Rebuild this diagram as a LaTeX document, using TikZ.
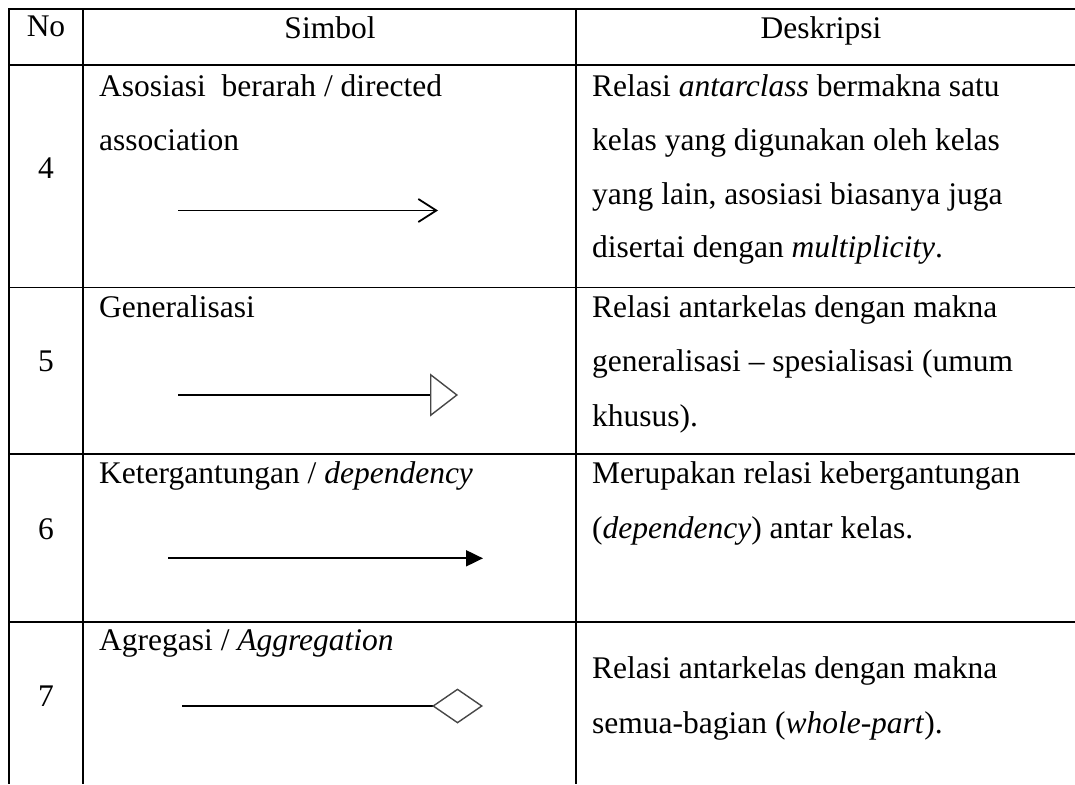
\documentclass[tikz,border=0pt]{standalone}
\usepackage{fontspec}
\setmainfont{Liberation Serif}
\usetikzlibrary{arrows.meta}
\begin{document}
\begin{tikzpicture}[x=1pt,y=-1pt,
  grid/.style={line width=1.7pt,black},
  txt/.style={inner sep=0pt,anchor=base west,font=\fontsize{31.5}{40}\selectfont},
  ctxt/.style={inner sep=0pt,anchor=base,font=\fontsize{31.5}{40}\selectfont},
  conn/.style={line width=1.6pt,black}]
\useasboundingbox (0,0) rectangle (1075,784);
% table rules
\draw[grid] (8.7,9) -- (1075,9);
\draw[grid] (8.7,65) -- (1075,65);
\draw[grid] (8.7,287.5) -- (1075,287.5);
\draw[grid] (8.7,454) -- (1075,454);
\draw[grid] (8.7,621.7) -- (1075,621.7);
\draw[grid] (8.7,8.15) -- (8.7,784);
\draw[grid] (83.3,9) -- (83.3,784);
\draw[grid] (576,9) -- (576,784);
% header
\node[ctxt] (hno) at (46,37) {No};
\node[ctxt] (hsim) at (330,38) {Simbol};
\node[ctxt] (hdes) at (821,38) {Deskripsi};
% numbers
\node[ctxt] (n4) at (46,178) {4};
\node[ctxt] (n5) at (46,371.7) {5};
\node[ctxt] (n6) at (46,539) {6};
\node[ctxt] (n7) at (46,706.7) {7};
% symbol texts
\node[txt] (s4a) at (99,96) {Asosiasi\ \ berarah / directed};
\node[txt] (s4b) at (99,150.7) {association};
\node[txt] (s5) at (99,317.7) {Generalisasi};
\node[txt] (s6) at (99,483.3) {Ketergantungan / \textit{dependency}};
\node[txt] (s7) at (99,650) {Agregasi / \textit{Aggregation}};
% description texts
\node[txt] (d4a) at (592,96.7) {Relasi \textit{antarclass} bermakna satu};
\node[txt] (d4b) at (592,150.7) {kelas yang digunakan oleh kelas};
\node[txt] (d4c) at (592,204) {yang lain, asosiasi biasanya juga};
\node[txt] (d4d) at (592,257.5) {disertai dengan \textit{multiplicity}.};
\node[txt] (d5a) at (592,317.7) {Relasi antarkelas dengan makna};
\node[txt] (d5b) at (592,371.7) {generalisasi -- spesialisasi (umum};
\node[txt] (d5c) at (592,426.7) {khusus).};
\node[txt] (d6a) at (592,483.3) {Merupakan relasi kebergantungan};
\node[txt] (d6b) at (592,538.3) {(\textit{dependency}) antar kelas.};
\node[txt] (d7a) at (592,678.3) {Relasi antarkelas dengan makna};
\node[txt] (d7b) at (592,733.3) {semua-bagian (\textit{whole-part}).};
% connector end points
\coordinate (a4s) at (178,210.5);
\coordinate (a4e) at (438,210.5);
\coordinate (a5s) at (178,395);
\coordinate (a5e) at (458,395);
\coordinate (a6s) at (168,558.3);
\coordinate (a6e) at (483,558.3);
\coordinate (a7s) at (182,706);
\coordinate (a7e) at (483,706);
% connectors
\draw[conn,-{Straight Barb[length=18pt,width=23pt,line width=1.8pt]}] (a4s) -- (a4e);
\draw[conn,line width=1.4pt,-{Triangle[open,length=28pt,width=43pt,color=black!72,line width=1.4pt]}] (a5s) -- (a5e);
\draw[conn,line width=1.9pt,-{Triangle[length=17pt,width=16pt]}] (a6s) -- (a6e);
\draw[conn,line width=1.4pt,-{Diamond[open,length=51pt,width=35pt,color=black!72,line width=1.4pt]}] (a7s) -- (a7e);
\end{tikzpicture}
\end{document}
